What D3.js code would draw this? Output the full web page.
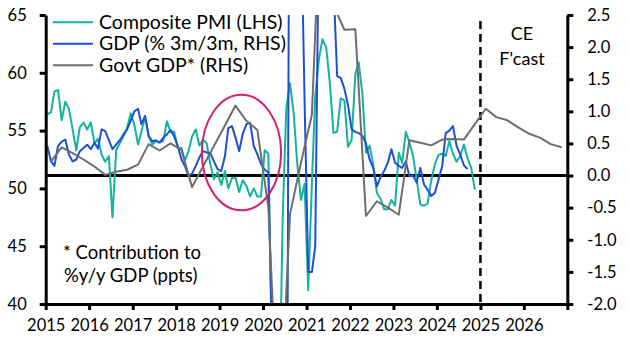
<!DOCTYPE html>
<html>
<head>
<meta charset="utf-8">
<script src="https://cdn.jsdelivr.net/npm/d3@7"></script>
<style>
  body { margin: 0; background: #fff; }
  svg text { font-family: Lato, "Open Sans", sans-serif; fill: #000; }
</style>
</head>
<body>
<div id="chart"></div>
<script>
// Composite PMI, monthly from Jan 2015 (LHS)
const pmiValues = [
  56.4, 56.6, 58.4, 58.5, 55.9, 57.5, 56.9, 55.1, 53.3, 55.3, 55.7, 55.1,
  55.7, 53.9, 54.3, 52.9, 52.3, 52.8, 47.5, 53.3, 53.9, 54.5, 55.2, 56.5,
  55.5, 53.8, 54.9, 56.2, 54.5, 53.8, 54.1, 54.0, 54.1, 55.8, 54.9, 54.9,
  53.5, 53.5, 52.4, 53.2, 54.5, 55.1, 53.7, 54.2, 53.9, 52.1, 50.8, 51.4,
  50.3, 51.5, 50.0, 50.9, 50.9, 49.7, 50.7, 50.2, 49.3, 50.0, 49.3, 49.3,
  53.3, 53.0, 36.0, 13.8, 30.0, 47.7, 57.0, 59.1, 56.5, 52.1, 49.0, 50.4,
  41.2, 50.5, 58.0, 61.2, 62.9, 62.2, 59.2, 54.8, 54.9, 57.8, 57.6, 53.6,
  54.2, 59.9, 60.9, 58.2, 53.1, 53.7, 52.1, 49.6, 49.1, 48.2, 48.2, 49.0,
  48.5, 53.1, 52.2, 54.9, 54.0, 52.8, 50.8, 48.6, 48.5, 48.7, 50.7, 52.1,
  52.9, 53.0, 52.8, 54.1, 53.0, 52.3, 52.8, 53.8, 52.6, 51.8, 49.9
];

// GDP % 3m/3m, monthly from Jan 2015 (RHS)
const gdpValues = [
  0.46, 0.22, 0.15, 0.46, 0.53, 0.56, 0.33, 0.22, 0.25, 0.38, 0.43, 0.48,
  0.41, 0.51, 0.42, 0.72, 0.69, 0.55, 0.41, 0.48, 0.55, 0.64, 0.72, 0.85,
  1.00, 1.04, 0.80, 0.93, 0.62, 0.53, 0.55, 0.51, 0.59, 0.64, 0.71, 0.61,
  0.46, 0.25, 0.15, 0.00, 0.03, 0.15, 0.28, 0.38, 0.36, 0.35, 0.22, 0.10,
  0.07, 0.30, 0.74, 0.77, 0.59, 0.38, 0.65, 0.80, 0.82, 0.46, 0.33, 0.18,
  0.09, 0.05, -2.4, -10.4, -19.1, -20.4, -7.6, 8.0, 15.5, 10.1, 4.1, 1.2,
  -1.5, -1.5, -1.1, 4.0, 4.8, 4.8, 3.6, 3.0, 1.55, 1.52, 1.35, 1.10,
  0.72, 0.68, 0.66, 0.62, 0.50, 0.25, 0.12, -0.17, -0.02, 0.07, 0.20, 0.41,
  0.20, 0.15, 0.12, 0.22, -0.01, 0.00, -0.11, 0.12, -0.14, -0.22, -0.32, -0.27,
  -0.06, 0.15, 0.66, 0.70, 0.77, 0.46, 0.33, 0.16, 0.10
];

// Govt contribution to %y/y GDP, quarterly from Q1 2015 (RHS)
const govtValues = [
  0.22, 0.44, 0.35, 0.25, 0.14, 0.01, 0.06, 0.09,
  0.17, 0.49, 0.39, 0.50, 0.40, -0.18, 0.14, 0.46,
  0.78, 1.09, 0.85, 0.71, -0.50, -4.2, -0.60, 0.20,
  0.95, 5.0, 2.65, 2.27, 2.28, -0.63, -0.40, -0.50,
  -0.61, 0.55, 0.51, 0.47, 0.56, 0.57, 0.56, 0.80,
  1.04, 0.91, 0.86, 0.75, 0.65, 0.59, 0.49, 0.44
];

const yearTicks = [2015, 2016, 2017, 2018, 2019, 2020, 2021, 2022, 2023, 2024, 2025, 2026, 2027];
const yearLabels = ["2015", "2016", "2017", "2018", "2019", "2020", "2021", "2022", "2023", "2024", "2025", "2026", ""];
const leftTicks = [40, 45, 50, 55, 60, 65];
const rightTicks = [-2.0, -1.5, -1.0, -0.5, 0.0, 0.5, 1.0, 1.5, 2.0, 2.5];
const legendLabels = ["Composite PMI (LHS)", "GDP (% 3m/3m, RHS)", "Govt GDP* (RHS)"];
const colors = ["#13b3a0", "#1f4fd3", "#6e6e6e"];

const width = 629, height = 354;
const margin = { top: 15, right: 61.7, bottom: 50, left: 45.7 };

const svg = d3.select("#chart")
  .append("svg")
  .attr("width", width)
  .attr("height", height);

const x = d3.scaleTime()
  .domain([new Date(2015, 0, 1), new Date(2027, 0, 1)])
  .range([margin.left, width - margin.right]);
const yL = d3.scaleLinear().domain([40, 65]).range([height - margin.bottom, margin.top]);
const yR = d3.scaleLinear().domain([-2, 2.5]).range([height - margin.bottom, margin.top]);

svg.append("clipPath").attr("id", "plot")
  .append("rect")
  .attr("x", margin.left).attr("y", margin.top)
  .attr("width", width - margin.left - margin.right)
  .attr("height", height - margin.top - margin.bottom);

const monthDate = i => new Date(2015, i, 15);
const quarterDate = i => new Date(2015, i * 3 + 1, 15);

// zero line of the right axis
svg.append("line")
  .attr("x1", margin.left).attr("x2", width - margin.right)
  .attr("y1", yR(0)).attr("y2", yR(0))
  .attr("stroke", "#000").attr("stroke-width", 3);

// forecast divider
svg.append("line")
  .attr("x1", x(new Date(2025, 0, 1))).attr("x2", x(new Date(2025, 0, 1)))
  .attr("y1", 21).attr("y2", yR(-2))
  .attr("stroke", "#000").attr("stroke-width", 2.5)
  .attr("stroke-dasharray", "8,5");

const g = svg.append("g").attr("clip-path", "url(#plot)");

g.append("path")
  .datum(pmiValues)
  .attr("fill", "none").attr("stroke", colors[0]).attr("stroke-width", 2)
  .attr("stroke-linejoin", "round")
  .attr("d", d3.line().x((d, i) => x(monthDate(i))).y(d => yL(d)));

g.append("path")
  .datum(gdpValues)
  .attr("fill", "none").attr("stroke", colors[1]).attr("stroke-width", 2)
  .attr("stroke-linejoin", "round")
  .attr("d", d3.line().x((d, i) => x(monthDate(i))).y(d => yR(d)));

g.append("path")
  .datum(govtValues)
  .attr("fill", "none").attr("stroke", colors[2]).attr("stroke-width", 2)
  .attr("stroke-linejoin", "round")
  .attr("d", d3.line().x((d, i) => x(quarterDate(i))).y(d => yR(d)));

// ellipse highlighting 2019
const ellCx = x(new Date(2019, 6, 4));
svg.append("ellipse")
  .attr("cx", ellCx)
  .attr("cy", yL(53.1))
  .attr("rx", x(new Date(2020, 5, 1)) - ellCx)
  .attr("ry", yL(48.1) - yL(53.1))
  .attr("fill", "none").attr("stroke", "#d41f73").attr("stroke-width", 2);

// axes
const xAxis = svg.append("g")
  .attr("transform", "translate(0," + (height - margin.bottom) + ")")
  .call(d3.axisBottom(x)
    .tickValues(yearTicks.map(y => new Date(y, 0, 1)))
    .tickFormat((d, i) => yearLabels[i])
    .tickSize(6).tickSizeOuter(0).tickPadding(9));

const leftAxis = svg.append("g")
  .attr("transform", "translate(" + margin.left + ",0)")
  .call(d3.axisLeft(yL).tickValues(leftTicks).tickFormat(d3.format("d"))
    .tickSize(6).tickSizeOuter(0).tickPadding(13));

const rightAxis = svg.append("g")
  .attr("transform", "translate(" + (width - margin.right) + ",0)")
  .call(d3.axisRight(yR).tickValues(rightTicks).tickFormat(d => d.toFixed(1))
    .tickSize(6).tickSizeOuter(0).tickPadding(14));

[xAxis, leftAxis, rightAxis].forEach(a => {
  a.select(".domain").attr("stroke", "#000").attr("stroke-width", 3);
  a.selectAll(".tick line").attr("stroke", "#000").attr("stroke-width", 3);
  a.selectAll("text").style("font-size", "16.5px").attr("fill", "#000");
});

// legend
legendLabels.forEach((label, i) => {
  const ly = 22.3 + i * 21.5;
  svg.append("line")
    .attr("x1", 53).attr("x2", 93).attr("y1", ly).attr("y2", ly)
    .attr("stroke", colors[i]).attr("stroke-width", 2);
  svg.append("text")
    .attr("x", 99).attr("y", ly + 6.5)
    .style("font-size", "19.5px")
    .text(label);
});

svg.append("text").attr("x", 522).attr("y", 39.5)
  .attr("text-anchor", "middle").style("font-size", "18px").text("CE");
svg.append("text").attr("x", 522).attr("y", 64.5)
  .attr("text-anchor", "middle").style("font-size", "18px").text("F'cast");

svg.append("text").attr("x", 63).attr("y", 258.5)
  .style("font-size", "18.5px").text("* Contribution to");
svg.append("text").attr("x", 64).attr("y", 281.5)
  .style("font-size", "18.5px").text("%y/y GDP (ppts)");
</script>
</body>
</html>
